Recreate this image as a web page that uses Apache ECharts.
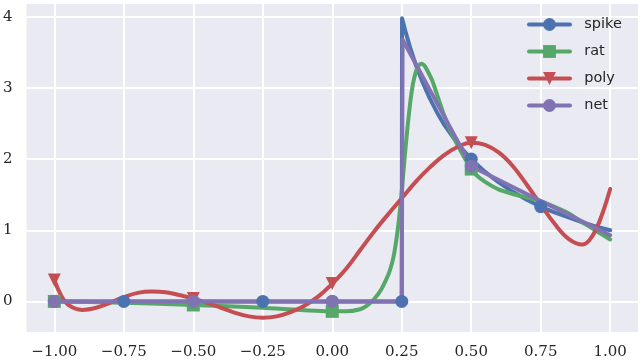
<!DOCTYPE html>
<html><head><meta charset="utf-8">
<script src="https://cdn.jsdelivr.net/npm/echarts@6/dist/echarts.min.js"></script>
<style>html,body{margin:0;padding:0;background:#fff}#c{width:640px;height:360px}</style>
</head><body><div id="c"></div>
<script>
// ---- tick labels ----
const xTickValues = [-1, -0.75, -0.5, -0.25, 0, 0.25, 0.5, 0.75, 1];
const xTickLabels = ['\u22121.00', '\u22120.75', '\u22120.50', '\u22120.25', '0.00', '0.25', '0.50', '0.75', '1.00'];
const yTickValues = [0, 1, 2, 3, 4];
const yTickLabels = ['0', '1', '2', '3', '4'];

// ---- series names ----
const seriesNames = ['spike', 'rat', 'poly', 'net'];

// ---- spike ----
const spikeX = [-1, -0.75, -0.5, -0.25, 0, 0.25, 0.251, 0.265, 0.28, 0.3, 0.325, 0.35, 0.375, 0.4, 0.45, 0.5, 0.55, 0.6, 0.65, 0.7, 0.75, 0.8, 0.85, 0.9, 0.95, 1];
const spikeY = [0, 0, 0, 0, 0, 0, 3.98, 3.77, 3.57, 3.33, 3.08, 2.86, 2.67, 2.5, 2.22, 2.0, 1.82, 1.67, 1.54, 1.43, 1.33, 1.25, 1.18, 1.11, 1.05, 1.0];
const spikeMarkX = [-1, -0.75, -0.5, -0.25, 0, 0.25, 0.5, 0.75];

// ---- rat ----
const ratX = [-1, -0.75, -0.5, -0.25, 0, 0.05, 0.1, 0.125, 0.15, 0.175, 0.2, 0.21, 0.22, 0.23, 0.24, 0.25, 0.26, 0.27, 0.28, 0.29, 0.3, 0.31, 0.32, 0.33, 0.34, 0.36, 0.38, 0.4, 0.42, 0.44, 0.46, 0.48, 0.5, 0.52, 0.55, 0.6, 0.65, 0.7, 0.75, 0.8, 0.85, 0.9, 0.95, 1];
const ratY = [0, -0.02, -0.05, -0.09, -0.14, -0.14, -0.11, -0.06, 0.03, 0.16, 0.36, 0.47, 0.62, 0.85, 1.15, 1.55, 2.0, 2.42, 2.78, 3.05, 3.22, 3.31, 3.34, 3.32, 3.26, 3.1, 2.87, 2.64, 2.45, 2.28, 2.13, 1.99, 1.86, 1.77, 1.68, 1.57, 1.51, 1.46, 1.41, 1.33, 1.24, 1.11, 0.99, 0.87];
const ratMarkX = [-1, -0.5, 0, 0.5];

// ---- poly ----
const polyX = [-1, -0.975, -0.95, -0.9, -0.85, -0.8, -0.75, -0.7, -0.65, -0.6, -0.55, -0.5, -0.45, -0.4, -0.35, -0.3, -0.25, -0.2, -0.15, -0.1, -0.05, 0, 0.05, 0.1, 0.15, 0.2, 0.25, 0.3, 0.35, 0.4, 0.45, 0.5, 0.55, 0.6, 0.65, 0.7, 0.75, 0.8, 0.85, 0.9, 0.925, 0.95, 0.975, 1];
const polyY = [0.30, 0.08, -0.05, -0.12, -0.09, -0.02, 0.06, 0.12, 0.14, 0.13, 0.09, 0.04, -0.02, -0.09, -0.16, -0.21, -0.23, -0.21, -0.15, -0.06, 0.07, 0.25, 0.46, 0.72, 0.98, 1.22, 1.45, 1.68, 1.88, 2.05, 2.17, 2.23, 2.20, 2.09, 1.90, 1.64, 1.36, 1.09, 0.88, 0.80, 0.86, 1.02, 1.27, 1.58];
const polyMarkX = [-1, -0.5, 0, 0.5];

// ---- net ----
const netX = [-1, -0.5, 0, 0.25, 0.253, 0.35, 0.45, 0.5, 0.75, 1];
const netY = [0, 0, 0, 0, 3.68, 2.98, 2.26, 1.9, 1.41, 0.93];
const netMarkX = [-1, -0.5, 0, 0.5];

const colors = {spike: '#4C72B0', rat: '#55A868', poly: '#C44E52', net: '#8172B2'};

function build(xs, ys, marks) {
  return xs.map((x, i) => marks.indexOf(x) >= 0 ? {value: [x, ys[i]]} : {value: [x, ys[i]], symbol: 'none'});
}

function mkSeries(name, xs, ys, marks, symbol, smooth) {
  return {
    name: name, type: 'line',
    data: build(xs, ys, marks),
    symbol: symbol, symbolSize: 13, showSymbol: true, showAllSymbol: true,
    smooth: smooth,
    lineStyle: {width: 4, color: colors[name], join: 'round', cap: 'round'},
    itemStyle: {color: colors[name], borderWidth: 0},
    emphasis: {disabled: true},
    animation: false
  };
}

const chart = echarts.init(document.getElementById('c'), null, {renderer: 'canvas'});
chart.setOption({
  animation: false,
  grid: {left: 23, right: 2, top: 4, bottom: 27, show: true, backgroundColor: '#EAEAF2', borderWidth: 0},
  xAxis: {
    type: 'value', min: -1.1, max: 1.1,
    axisLine: {show: false},
    axisTick: {show: false, customValues: xTickValues},
    axisLabel: {
      customValues: xTickValues, margin: 13,
      fontFamily: 'DejaVu Serif', fontSize: 15, color: '#262626',
      formatter: v => { const i = xTickValues.findIndex(t => Math.abs(t - v) < 1e-9); return i >= 0 ? xTickLabels[i] : ''; }
    },
    splitLine: {show: true, lineStyle: {color: '#ffffff', width: 2}}
  },
  yAxis: {
    type: 'value', min: -0.43, max: 4.18,
    axisLine: {show: false},
    axisTick: {show: false, customValues: yTickValues},
    axisLabel: {
      customValues: yTickValues, margin: 14,
      fontFamily: 'DejaVu Serif', fontSize: 15, color: '#262626',
      formatter: v => { const i = yTickValues.findIndex(t => Math.abs(t - v) < 1e-9); return i >= 0 ? yTickLabels[i] : ''; }
    },
    splitLine: {show: true, lineStyle: {color: '#ffffff', width: 2}}
  },
  legend: {
    orient: 'vertical', left: 527, top: 17, padding: 0,
    itemWidth: 41, itemHeight: 16, itemGap: 12,
    data: seriesNames,
    formatter: n => '  ' + n,
    lineStyle: {width: 4},
    textStyle: {fontFamily: 'DejaVu Sans', fontSize: 14.5, color: '#262626'}
  },
  series: [
    mkSeries('spike', spikeX, spikeY, spikeMarkX, 'circle', false),
    mkSeries('rat', ratX, ratY, ratMarkX, 'rect', 0.2),
    mkSeries('poly', polyX, polyY, polyMarkX, 'path://M0,0L10,0L5,10Z', 0.4),
    mkSeries('net', netX, netY, netMarkX, 'circle', false)
  ]
});
</script></body></html>
